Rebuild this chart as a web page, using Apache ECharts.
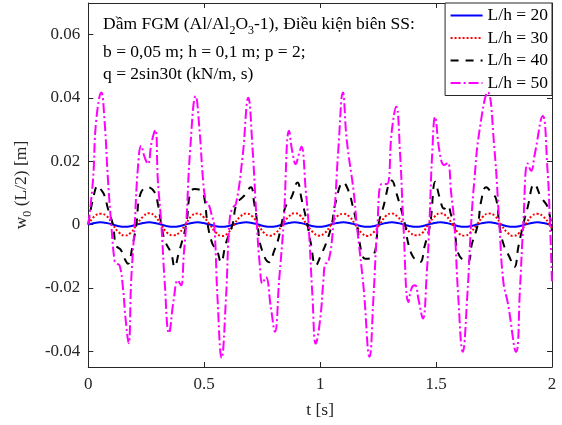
<!DOCTYPE html>
<html>
<head>
<meta charset="utf-8">
<script src="https://cdn.jsdelivr.net/npm/echarts@6/dist/echarts.min.js"></script>
<style>html,body{margin:0;padding:0;background:#fff;}#c{width:562px;height:425px;}</style>
</head>
<body>
<div id="c"></div>
<script>
// ---- data ----
const xTicks = [0, 0.5, 1, 1.5, 2];
const yTicks = [-0.04, -0.02, 0, 0.02, 0.04, 0.06];
const seriesNames = ['L/h = 20', 'L/h = 30', 'L/h = 40', 'L/h = 50'];

// time samples used for L/h = 20 and L/h = 30
const tGrid = [0, 0.026, 0.052, 0.079, 0.105, 0.131, 0.157, 0.183,
  0.209, 0.236, 0.262, 0.288, 0.314, 0.340, 0.367, 0.393,
  0.419, 0.445, 0.471, 0.497, 0.524, 0.550, 0.576, 0.602,
  0.628, 0.654, 0.681, 0.707, 0.733, 0.759, 0.785, 0.812,
  0.838, 0.864, 0.890, 0.916, 0.942, 0.969, 0.995, 1.021,
  1.047, 1.073, 1.100, 1.126, 1.152, 1.178, 1.204, 1.230,
  1.257, 1.283, 1.309, 1.335, 1.361, 1.388, 1.414, 1.440,
  1.466, 1.492, 1.518, 1.545, 1.571, 1.597, 1.623, 1.649,
  1.676, 1.702, 1.728, 1.754, 1.780, 1.806, 1.833, 1.859,
  1.885, 1.911, 1.937, 1.963, 1.990, 2.0];

const w20 = [0, 0.0005, 0.0007, 0.0005, 0, -0.0005, -0.0007, -0.0005,
  0, 0.0005, 0.0007, 0.0005, 0, -0.0005, -0.0007, -0.0005,
  0, 0.0005, 0.0007, 0.0005, 0, -0.0005, -0.0007, -0.0005,
  0, 0.0005, 0.0007, 0.0005, 0, -0.0005, -0.0007, -0.0005,
  0, 0.0005, 0.0007, 0.0005, 0, -0.0005, -0.0007, -0.0005,
  0, 0.0005, 0.0007, 0.0005, 0, -0.0005, -0.0007, -0.0005,
  0, 0.0005, 0.0007, 0.0005, 0, -0.0005, -0.0007, -0.0005,
  0, 0.0005, 0.0007, 0.0005, 0, -0.0005, -0.0007, -0.0005,
  0, 0.0005, 0.0007, 0.0005, 0, -0.0005, -0.0007, -0.0005,
  0, 0.0005, 0.0007, 0.0005, 0, -0.0003];

const w30 = [0, 0.0026, 0.0034, 0.0027, 0, -0.0024, -0.0035, -0.0026,
  0, 0.0025, 0.0036, 0.0026, 0, -0.0026, -0.0034, -0.0025,
  0, 0.0027, 0.0035, 0.0024, 0, -0.0025, -0.0036, -0.0027,
  0, 0.0024, 0.0035, 0.0026, 0, -0.0027, -0.0035, -0.0024,
  0, 0.0025, 0.0036, 0.0027, 0, -0.0024, -0.0035, -0.0026,
  0, 0.0026, 0.0034, 0.0025, 0, -0.0026, -0.0036, -0.0025,
  0, 0.0027, 0.0035, 0.0024, 0, -0.0025, -0.0034, -0.0027,
  0, 0.0024, 0.0036, 0.0026, 0, -0.0027, -0.0035, -0.0024,
  0, 0.0025, 0.0035, 0.0027, 0, -0.0024, -0.0036, -0.0026,
  0, 0.0026, 0.0034, 0.0025, 0, -0.0012];

const t40 = [0, 0.02, 0.042, 0.055, 0.068, 0.085, 0.106, 0.12, 0.14, 0.16, 0.171, 0.19, 0.207,
  0.225, 0.257, 0.286, 0.3, 0.315, 0.33, 0.358, 0.372, 0.39, 0.422,
  0.44, 0.458, 0.487, 0.5, 0.515, 0.535, 0.555, 0.572, 0.593, 0.622,
  0.64, 0.672, 0.701, 0.715, 0.73, 0.745, 0.78, 0.802, 0.818, 0.833,
  0.85, 0.876, 0.902, 0.92, 0.945, 0.96, 0.981, 1.006, 1.025, 1.05,
  1.065, 1.1, 1.122, 1.14, 1.158, 1.18, 1.194, 1.23, 1.251,
  1.27, 1.309, 1.33, 1.366, 1.38, 1.402, 1.431, 1.45, 1.474,
  1.497, 1.515, 1.535, 1.55, 1.565, 1.579, 1.595, 1.636, 1.655, 1.68,
  1.695, 1.716, 1.74, 1.759, 1.773, 1.79, 1.815, 1.838, 1.855, 1.876,
  1.895, 1.924, 1.953, 1.981, 2.0];
const w40 = [0, 0.008, 0.0123, 0.011, 0.0095, 0.005, 0, -0.0066, -0.008, -0.0113, -0.0124, -0.007, 0,
  0.0097, 0.0118, 0.0102, 0.0065, 0, -0.005, -0.0092, -0.0134, -0.009, 0,
  0.0102, 0.0112, 0.0107, 0.0086, 0, -0.006, -0.0082, -0.0119, -0.006, 0,
  0.0065, 0.0091, 0.0118, 0.007, 0, -0.0071, -0.0119, -0.0082, -0.005, 0,
  0.0055, 0.0086, 0.0133, 0.008, 0, -0.006, -0.0129, -0.0092, -0.006, 0,
  0.0065, 0.0133, 0.0107, 0.006, 0, -0.0092, -0.0108, -0.0098, 0,
  0.0049, 0.0139, 0.0097, 0, -0.006, -0.0103, -0.0119, -0.007, 0,
  0.0135, 0.0086, 0.005, 0.006, 0.003, 0, -0.009, -0.0119, -0.006, 0,
  0.0076, 0.0118, 0.01, 0.0081, 0, -0.006, -0.01, -0.0134, -0.007, 0,
  0.0055, 0.0128, 0.0086, 0.0055, -0.002];

const t50 = [0, 0.02, 0.034, 0.056, 0.07, 0.085, 0.099, 0.113, 0.121, 0.135, 0.149, 0.161, 0.174, 0.185,
  0.2, 0.214, 0.228, 0.242, 0.257, 0.273, 0.289, 0.3, 0.315, 0.329, 0.348, 0.368, 0.386, 0.4, 0.412,
  0.422, 0.44, 0.463, 0.48, 0.495, 0.507, 0.521, 0.532, 0.543, 0.557, 0.575, 0.594,
  0.608, 0.62, 0.637, 0.665, 0.69, 0.708, 0.727, 0.74, 0.751, 0.766, 0.787, 0.805, 0.823,
  0.842, 0.866, 0.88, 0.895, 0.907, 0.919, 0.938, 0.95, 0.967, 0.981, 1.0, 1.014, 1.022, 1.035,
  1.057, 1.079, 1.098, 1.115, 1.144, 1.158, 1.187, 1.213, 1.23,
  1.247, 1.266, 1.288, 1.309, 1.328, 1.345, 1.359, 1.381, 1.395, 1.409, 1.425, 1.443, 1.46,
  1.471, 1.483, 1.496, 1.515, 1.535, 1.55, 1.565, 1.579, 1.595, 1.615, 1.635,
  1.651, 1.665, 1.687, 1.723, 1.751, 1.773, 1.79, 1.81, 1.845, 1.862,
  1.876, 1.895, 1.91, 1.925, 1.96, 1.98, 1.99, 2.0];
const w50 = [0, 0.0139, 0.0328, 0.0417, 0.0328, 0.0139, 0, -0.0113, -0.0123, -0.0129, -0.0197, -0.030, -0.0375, -0.0176,
  0, 0.018, 0.0249, 0.0215, 0.0192, 0.026, 0.0299, 0.0139, 0, -0.0176, -0.0343, -0.0239, -0.0176, -0.0192, -0.0092,
  0, 0.0244, 0.0406, 0.0296, 0.014, 0.0076, 0.006, 0.003, 0, -0.0229, -0.0422, -0.0229,
  0, 0.005, 0.0066, 0.0212, 0.0401, 0.0244, 0, -0.013, -0.0186, -0.0166, -0.026, -0.0339, -0.0176,
  0, 0.0296, 0.023, 0.0191, 0.022, 0.0246, 0.0107, 0, -0.0229, -0.0376, -0.030, -0.0176, -0.0124, -0.012,
  0, 0.0244, 0.0417, 0.0265, 0.0107, 0, -0.0197, -0.0418, -0.0229,
  0, 0.0128, 0.0128, 0.0296, 0.0372, 0.022, 0, -0.0245, -0.020, -0.0192, -0.024, -0.0297, -0.015,
  0, 0.022, 0.034, 0.023, 0.0188, 0.0195, 0.01, 0, -0.022, -0.0402, -0.022,
  0, 0.0139, 0.0296, 0.0418, 0.0244, 0, -0.018, -0.025, -0.0402, -0.02,
  0, 0.0193, 0.017, 0.022, 0.0343, 0.018, 0.003, -0.0187];

// ---- chart ----
const FONT = "'Liberation Serif', 'Times New Roman', serif";
const AX = '#262626';
const pairs = (ts, ws) => ts.map((t, i) => [t, ws[i]]);

const chart = echarts.init(document.getElementById('c'), null, {renderer: 'canvas'});

const lineSeries = (name, data, color, type, z) => ({
  type: 'line', name, data, symbol: 'none', showSymbol: false, smooth: 0.45,
  z, animation: false,
  lineStyle: {color, width: 2, type, cap: 'butt'},
  itemStyle: {color}
});

const baseX = {
  type: 'value', min: 0, max: 2, interval: 0.5,
  axisLine: {show: true, onZero: false, lineStyle: {color: AX, width: 1}},
  axisTick: {show: true, inside: true, length: 5, lineStyle: {color: AX}},
  splitLine: {show: false}
};
const baseY = {
  type: 'value', min: -0.045, max: 0.07,
  axisLine: {show: true, onZero: false, lineStyle: {color: AX, width: 1}},
  axisTick: {show: true, inside: true, length: 5, customValues: yTicks, lineStyle: {color: AX}},
  splitLine: {show: false}
};

chart.setOption({
  animation: false,
  backgroundColor: '#fff',
  grid: {left: 88, right: 10, top: 3, bottom: 58, containLabel: false},
  xAxis: [
    Object.assign({}, baseX, {
      position: 'bottom',
      axisLabel: {show: true, customValues: xTicks, fontFamily: FONT, fontSize: 17, color: AX, margin: 9,
        formatter: v => String(v)},
      name: 't [s]', nameLocation: 'middle', nameGap: 34,
      nameTextStyle: {fontFamily: FONT, fontSize: 17.5, color: AX}
    }),
    Object.assign({}, baseX, {position: 'top', axisLabel: {show: false}})
  ],
  yAxis: [
    Object.assign({}, baseY, {
      position: 'left',
      axisLabel: {show: true, customValues: yTicks, fontFamily: FONT, fontSize: 17, color: AX, margin: 8,
        formatter: v => String(v)},
      name: '{n|w}{s|0}{n| (L/2) [m]}', nameLocation: 'middle', nameGap: 52, nameRotate: 90,
      nameTextStyle: {fontFamily: FONT, color: AX,
        rich: {
          n: {fontFamily: FONT, fontSize: 17.5, lineHeight: 18, color: AX},
          s: {fontFamily: FONT, fontSize: 12, lineHeight: 12, padding: [14, 0, 0, 0], color: AX}
        }}
    }),
    Object.assign({}, baseY, {position: 'right', axisLabel: {show: false}})
  ],
  legend: {
    orient: 'vertical', right: 10, top: 3,
    data: seriesNames,
    itemWidth: 32, itemHeight: 14, itemGap: 4.5,
    padding: [3.5, 4, 3.5, 4.5],
    backgroundColor: '#fff', borderColor: AX, borderWidth: 1, borderRadius: 0,
    itemStyle: {color: 'rgba(0,0,0,0)', borderWidth: 0, opacity: 0},
    textStyle: {fontFamily: FONT, fontSize: 17.5, color: '#000', lineHeight: 14},
    selectedMode: false
  },
  graphic: [
    {type: 'text', x: 103, y: 15, z: 10,
      style: {
        text: '{n|Dầm FGM (Al/Al}{s|2}{n|O}{s|3}{n|-1), Điều kiện biên SS:}',
        verticalAlign: 'top', fill: '#000',
        rich: {
          n: {fontFamily: FONT, fontSize: 17.5, lineHeight: 18, fill: '#000'},
          s: {fontFamily: FONT, fontSize: 12, lineHeight: 12, padding: [14, 0, 0, 0], fill: '#000'}
        }
      }},
    {type: 'text', x: 103, y: 52, z: 10,
      style: {text: 'b = 0,05 m; h = 0,1 m; p = 2;', verticalAlign: 'middle',
        font: "17.5px 'Liberation Serif', 'Times New Roman', serif", fill: '#000'}},
    {type: 'text', x: 103, y: 74.5, z: 10,
      style: {text: 'q = 2sin30t (kN/m, s)', verticalAlign: 'middle',
        font: "17.5px 'Liberation Serif', 'Times New Roman', serif", fill: '#000'}}
  ],
  series: [
    lineSeries(seriesNames[0], pairs(tGrid, w20), '#0000ff', 'solid', 2),
    lineSeries(seriesNames[1], pairs(tGrid, w30), '#ff0000', [2, 2], 3),
    lineSeries(seriesNames[2], pairs(t40, w40), '#000000', [8, 7], 4),
    lineSeries(seriesNames[3], pairs(t50, w50), '#ff00ff', [10, 3, 2, 3], 5)
  ]
});
</script>
</body>
</html>
